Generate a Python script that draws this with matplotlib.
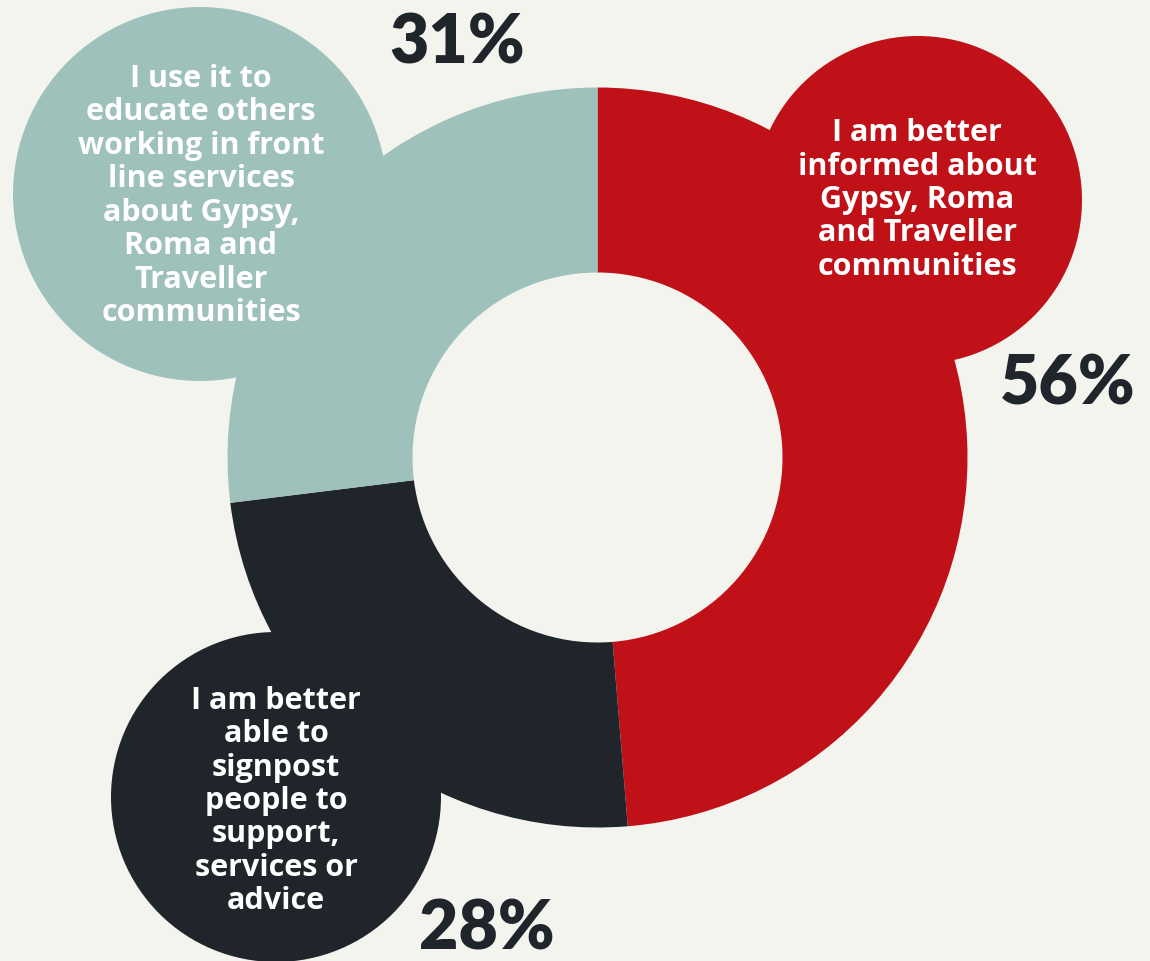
import matplotlib
matplotlib.use("Agg")
import matplotlib.pyplot as plt
from matplotlib.patches import Circle

# Survey responses (multiple answers allowed, so shares exceed 100%)
labels = [
    "I am better\ninformed about\nGypsy, Roma\nand Traveller\ncommunities",
    "I am better\nable to\nsignpost\npeople to\nsupport,\nservices or\nadvice",
    "I use it to\neducate others\nworking in front\nline services\nabout Gypsy,\nRoma and\nTraveller\ncommunities",
]
values = [56, 28, 31]
pct_labels = ["56%", "28%", "31%"]
colors = ["#C01118", "#1F252A", "#9FC1BB"]

BG = "#F4F4EF"
TEXT_DARK = "#1F252A"
LABEL_FONT = ["Open Sans", "DejaVu Sans"]
PCT_FONT = ["Lato", "DejaVu Sans"]

W, H = 1150, 961
fig = plt.figure(figsize=(W / 100, H / 100), dpi=100, facecolor=BG)
ax = fig.add_axes([0, 0, 1, 1])
ax.set_facecolor(BG)

# Donut geometry (pixel coordinates, y downward)
cx, cy = 597.5, 457.5
R_OUT, RING = 370, 185

# Callout bubbles behind each segment: (centre x, centre y, radius)
bubbles = [(918, 200, 164), (276, 797, 165), (200, 194, 187)]
label_pos = [(917, 200), (276, 801), (201, 196)]
pct_pos = [(1068, 385), (487, 930), (457, 44)]

for (bx, by, br), col in zip(bubbles, colors):
    ax.add_patch(Circle((bx, by), br, facecolor=col, edgecolor="none", zorder=1))

# y axis is inverted, so data angle -90 is the visual top and
# counterclockwise in data space runs clockwise on screen
ax.pie(values, colors=colors, startangle=-90, counterclock=True,
       radius=R_OUT, center=(cx, cy),
       wedgeprops=dict(width=RING, linewidth=0, edgecolor="none"))
for p in ax.patches:
    p.set_zorder(2)

for txt, (tx, ty) in zip(labels, label_pos):
    ax.text(tx, ty, txt, ha="center", va="center", color="white",
            fontsize=22, fontweight="bold", family=LABEL_FONT,
            linespacing=1.15, zorder=5)

for txt, (tx, ty) in zip(pct_labels, pct_pos):
    ax.text(tx, ty, txt, ha="center", va="center", color=TEXT_DARK,
            fontsize=49, fontweight="heavy", family=PCT_FONT, zorder=5)

ax.set_xlim(0, W)
ax.set_ylim(H, 0)
ax.set_aspect("equal")
ax.axis("off")

fig.savefig("out.png", dpi=100, facecolor=BG)
